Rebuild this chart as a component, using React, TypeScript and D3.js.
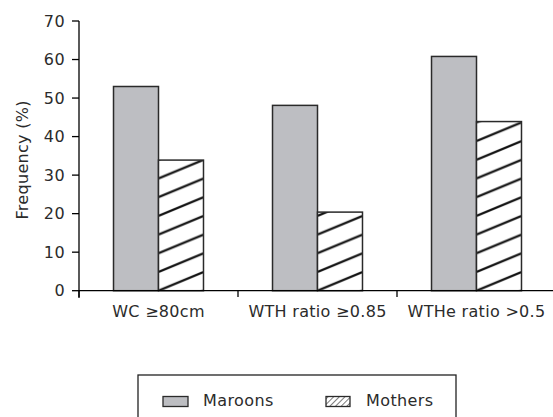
import React from "react";
import * as d3 from "d3";

const categories = ["WC \u226580cm", "WTH ratio \u22650.85", "WTHe ratio >0.5"];
const seriesNames = ["Maroons", "Mothers"];
const maroons = [53, 48.1, 60.8];
const mothers = [33.9, 20.4, 43.9];
const yTicks = [0, 10, 20, 30, 40, 50, 60, 70];
const yTitle = "Frequency (%)";

const W = 553;
const H = 417;
const FONT = "'DejaVu Sans', 'Open Sans', sans-serif";
const GREY = "#bdbec2";
const DARK = "#2a2a2a";
const TXT = "#2b2b2b";

export default function App() {
  const x = d3.scaleBand<string>().domain(categories).range([79, 556]).paddingInner(0).paddingOuter(0);
  const xs = d3.scaleBand<string>().domain(seriesNames).range([0, x.bandwidth()]).paddingInner(0).paddingOuter(0.767);
  const y = d3.scaleLinear().domain([0, 70]).range([290.7, 21]);
  const bw = xs.bandwidth();
  const hatchH = 18.7;
  const series = [maroons, mothers];

  const boundaries = categories.map((c) => x(c)!).concat([x(categories[categories.length - 1])! + x.bandwidth()]);

  return (
    <svg width={W} height={H} style={{ position: "absolute", left: 0, top: 0, background: "#fff" }} fontFamily={FONT}>
      <defs>
        {categories.map((c, i) => (
          <pattern
            key={i}
            id={`hatch${i}`}
            patternUnits="userSpaceOnUse"
            x={x(c)! + xs("Mothers")!}
            y={y(0)}
            width={bw}
            height={hatchH}
          >
            <rect width={bw} height={hatchH} fill="#fff" />
            <line x1={0} y1={hatchH} x2={bw} y2={0} stroke="#111" strokeWidth={2.2} />
            <line x1={0} y1={2 * hatchH} x2={bw} y2={hatchH} stroke="#111" strokeWidth={2.2} />
            <line x1={0} y1={0} x2={bw} y2={-hatchH} stroke="#111" strokeWidth={2.2} />
          </pattern>
        ))}
        <pattern id="legHatch" patternUnits="userSpaceOnUse" x={0} y={0} width={4} height={4} patternTransform="rotate(45)">
          <rect width={4} height={4} fill="#fff" />
          <line x1={0} y1={0} x2={0} y2={4} stroke="#222" strokeWidth={1.2} />
        </pattern>
      </defs>

      {/* bars */}
      {categories.map((c, i) =>
        seriesNames.map((s, j) => {
          const v = series[j][i];
          return (
            <rect
              key={`${i}-${j}`}
              x={x(c)! + xs(s)!}
              y={y(v)}
              width={bw}
              height={y(0) - y(v)}
              fill={j === 0 ? GREY : `url(#hatch${i})`}
              stroke={DARK}
              strokeWidth={1.5}
            />
          );
        })
      )}

      {/* y axis */}
      <line x1={79} y1={y(70)} x2={79} y2={298} stroke="#000" strokeWidth={1.3} />
      {yTicks.map((t) => (
        <g key={t}>
          <line x1={72} x2={79} y1={y(t)} y2={y(t)} stroke="#000" strokeWidth={1.3} />
          <text x={65} y={y(t)} dy="0.36em" textAnchor="end" fontSize={16} letterSpacing={0.4} fill={TXT}>
            {t}
          </text>
        </g>
      ))}
      <text
        transform={`translate(28, ${(y(0) + y(70)) / 2 + 4}) rotate(-90)`}
        textAnchor="middle"
        fontSize={16}
        letterSpacing={0.3}
        fill={TXT}
      >
        {yTitle}
      </text>

      {/* x axis */}
      <line x1={79} y1={y(0)} x2={W} y2={y(0)} stroke="#000" strokeWidth={1.3} />
      {boundaries.map((b, i) => (
        <line key={i} x1={b} x2={b} y1={y(0)} y2={297} stroke="#000" strokeWidth={1.3} />
      ))}
      {categories.map((c) => (
        <text key={c} x={x(c)! + x.bandwidth() / 2} y={317} textAnchor="middle" fontSize={16} letterSpacing={0.3} fill={TXT}>
          {c}
        </text>
      ))}

      {/* legend */}
      <rect x={138} y={375} width={318} height={60} fill="none" stroke="#222" strokeWidth={1.3} />
      <rect x={163} y={396.5} width={25} height={10} fill={GREY} stroke={DARK} strokeWidth={1.3} />
      <text x={203} y={406} fontSize={16} letterSpacing={0.4} fill={TXT}>
        {seriesNames[0]}
      </text>
      <rect x={326} y={396.5} width={24} height={10} fill="url(#legHatch)" stroke={DARK} strokeWidth={1.3} />
      <text x={366} y={406} fontSize={16} letterSpacing={0.4} fill={TXT}>
        {seriesNames[1]}
      </text>
    </svg>
  );
}
